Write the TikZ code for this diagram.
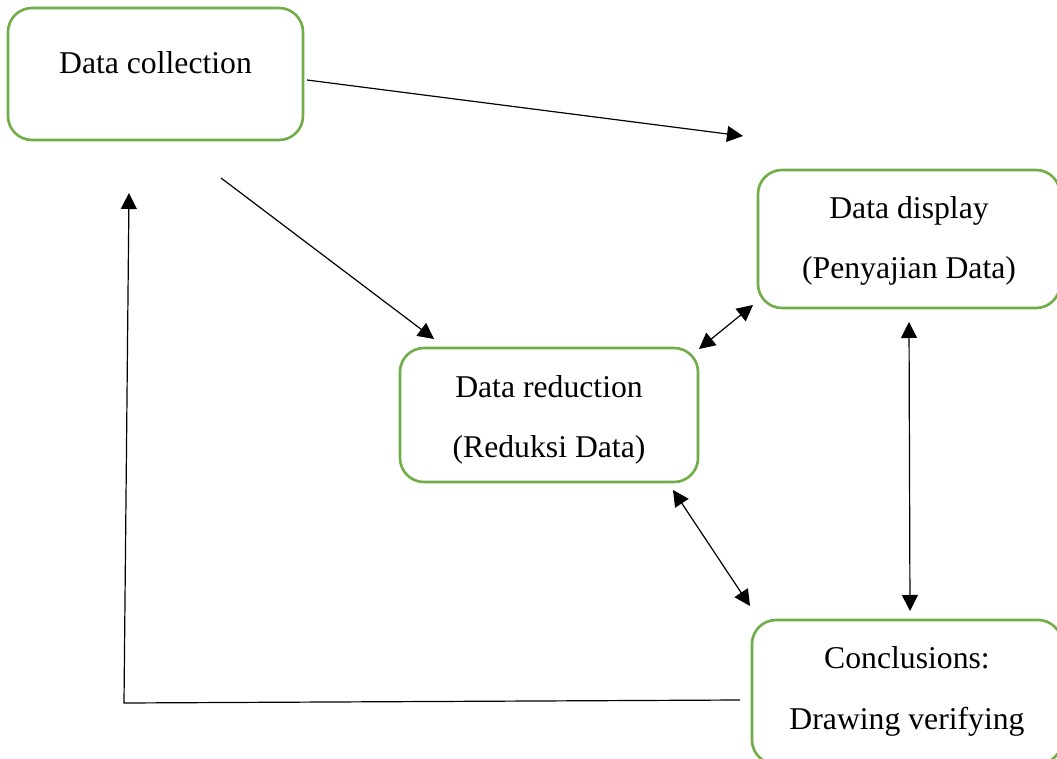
\documentclass[tikz,border=0pt]{standalone}
\usepackage{fontspec}
\setmainfont{Liberation Serif}
\usetikzlibrary{arrows.meta}
\definecolor{boxgreen}{HTML}{70AD47}
\begin{document}
\begin{tikzpicture}[x=1pt,y=-1pt,
  box/.style={draw=boxgreen, line width=2.6pt, rounded corners=24pt, inner sep=0pt, fill=white},
  lbl/.style={font=\fontsize{31.7}{38}\selectfont, inner sep=0pt, anchor=base},
  conn/.style={draw=black, line width=1.2pt},
  tip/.style={-{Triangle[length=16pt,width=16pt]}},
  dtip/.style={{Triangle[length=16pt,width=16pt]}-{Triangle[length=16pt,width=16pt]}}]
\useasboundingbox (0,0) rectangle (1057,759);
\clip (0,0) rectangle (1057,759);
\fill[white] (0,0) rectangle (1057,759);
% boxes
\node[box, minimum width=295pt, minimum height=132pt] (dc) at (155.5,74) {};
\node[box, minimum width=302pt, minimum height=138pt] (dd) at (909,239) {};
\node[box, minimum width=298pt, minimum height=134pt] (dr) at (549,415) {};
\node[box, minimum width=310pt, minimum height=144pt] (cv) at (907,692) {};
% texts
\node[lbl] (dct) at (155.5,74) {Data collection};
\node[lbl] (ddt1) at (909,219) {Data display};
\node[lbl] (ddt2) at (909,279) {(Penyajian Data)};
\node[lbl] (drt1) at (549,397) {Data reduction};
\node[lbl] (drt2) at (549,457) {(Reduksi Data)};
\node[lbl] (cvt1) at (907,668) {Conclusions:};
\node[lbl] (cvt2) at (907,729) {Drawing verifying};
% connector end points
\coordinate (a1s) at (307,80);
\coordinate (a1e) at (743,136);
\coordinate (a2s) at (221,178);
\coordinate (a2e) at (434,339);
\coordinate (a3a) at (699,349);
\coordinate (a3b) at (753,305);
\coordinate (a4a) at (909,322);
\coordinate (a4b) at (910,611);
\coordinate (a5a) at (673,490);
\coordinate (a5b) at (750,606);
\coordinate (f1) at (740,700);
\coordinate (f2) at (124,703);
\coordinate (f3) at (129,193);
% connectors
\draw[conn, tip] (a1s) -- (a1e);
\draw[conn, tip] (a2s) -- (a2e);
\draw[conn, dtip] (a3a) -- (a3b);
\draw[conn, dtip] (a4a) -- (a4b);
\draw[conn, dtip] (a5a) -- (a5b);
\draw[conn, tip] (f1) -- (f2) -- (f3);
\end{tikzpicture}
\end{document}
